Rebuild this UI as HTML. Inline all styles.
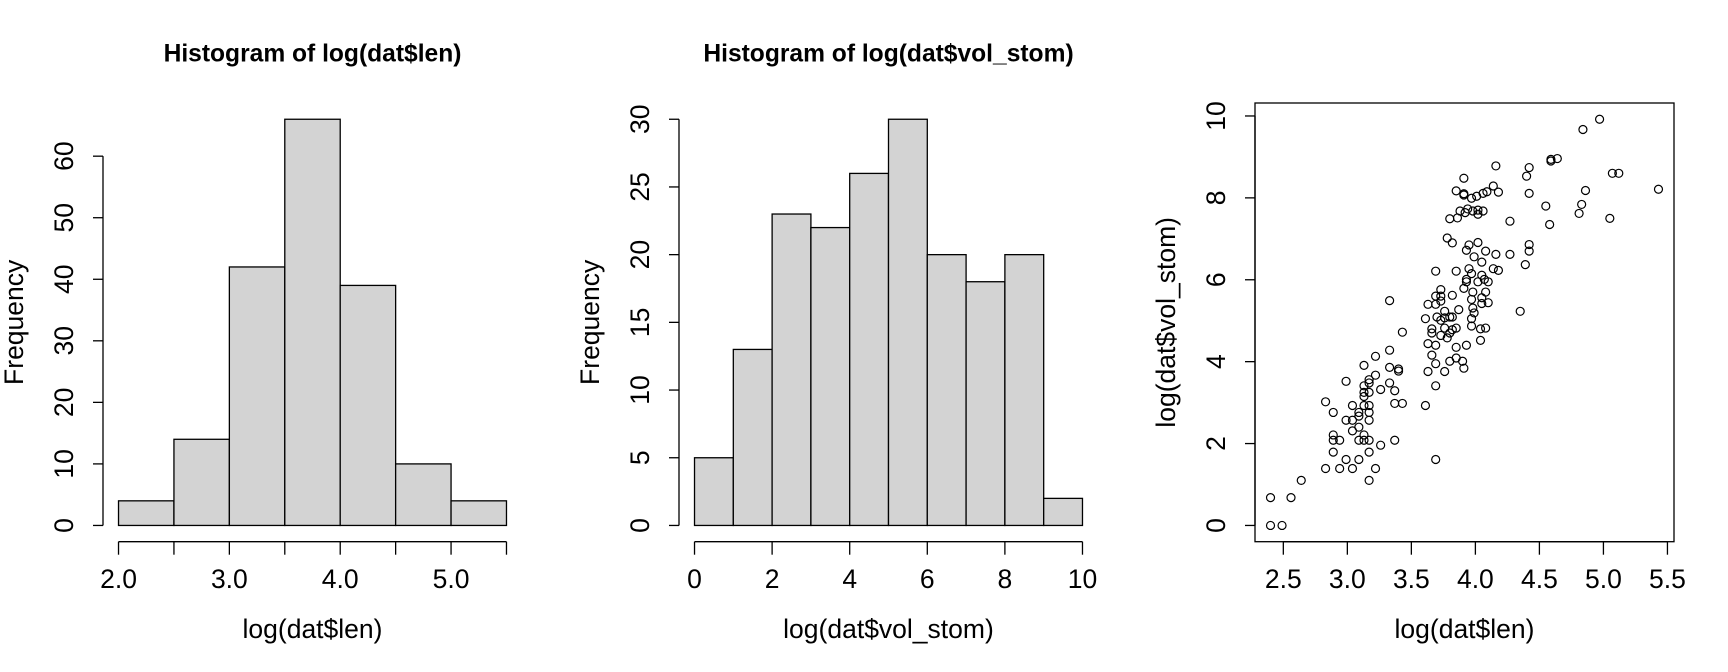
<!DOCTYPE html>
<html><head><meta charset="utf-8"><style>
html,body{margin:0;padding:0;background:#fff;}
svg{display:block;font-family:"Liberation Sans",Arial,sans-serif;}
</style></head><body>
<svg id="chart" width="1728" height="672" viewBox="0 0 1728 672" xmlns="http://www.w3.org/2000/svg"></svg>
<script>
// ---- data ----
const h1Breaks = [2.0, 2.5, 3.0, 3.5, 4.0, 4.5, 5.0, 5.5];
const h1Counts = [4, 14, 42, 66, 39, 10, 4];
const h1XTicks = [2.0, 2.5, 3.0, 3.5, 4.0, 4.5, 5.0, 5.5];
const h1XLabels = ["2.0", "", "3.0", "", "4.0", "", "5.0", ""];
const h1YTicks = [0, 10, 20, 30, 40, 50, 60];

const h2Breaks = [0, 1, 2, 3, 4, 5, 6, 7, 8, 9, 10];
const h2Counts = [5, 13, 23, 22, 26, 30, 20, 18, 20, 2];
const h2XTicks = [0, 2, 4, 6, 8, 10];
const h2YTicks = [0, 5, 10, 15, 20, 25, 30];

const scX = [2.40,2.49,2.40,2.56,2.64,2.83,2.94,3.04,3.22,3.17,2.99,3.09,2.89,3.17,3.26,3.37,2.89,2.94,3.09,3.13,3.17,2.89,3.13,3.04,3.09,2.99,3.04,3.17,3.09,3.09,2.89,3.17,2.83,3.04,3.13,3.17,3.37,3.43,3.61,3.13,3.13,3.17,3.26,3.37,3.13,3.17,3.17,3.33,2.99,3.22,3.13,3.33,3.40,3.40,3.22,3.33,3.43,3.33,
3.69,3.69,3.63,3.69,3.76,3.66,3.80,3.85,3.90,3.91,3.63,3.69,3.85,3.93,4.04,3.78,3.73,3.66,3.66,3.80,3.85,3.76,3.82,3.97,4.04,4.08,3.61,3.70,3.73,3.76,3.80,3.82,3.97,3.76,3.87,3.98,3.99,4.35,3.63,3.69,3.73,4.05,4.10,3.69,3.73,3.82,3.97,4.05,3.73,3.98,4.08,3.91,3.93,3.93,4.02,4.10,4.07,3.69,3.85,3.97,4.05,3.95,4.14,4.18,4.05,3.99,3.93,4.08,4.16,4.27,4.39,3.95,3.82,4.02,3.78,4.42,4.42,4.27,3.80,3.86,3.92,3.88,3.94,3.98,4.02,4.02,4.06,3.97,4.01,3.91,3.91,3.85,4.06,4.09,4.14,4.18,3.91,4.16,4.40,4.42,4.42,4.55,4.58,4.59,4.59,4.64,4.81,4.83,4.86,4.84,4.97,5.05,5.07,5.12,5.43];
const scY = [0,0,0.68,0.68,1.10,1.39,1.39,1.39,1.39,1.10,1.61,1.61,1.79,1.79,1.96,2.08,2.08,2.08,2.08,2.08,2.08,2.21,2.21,2.31,2.40,2.57,2.57,2.57,2.67,2.76,2.76,2.76,3.02,2.93,2.93,2.93,2.98,2.98,2.93,3.15,3.25,3.25,3.32,3.29,3.41,3.48,3.56,3.48,3.52,3.67,3.91,3.86,3.82,3.77,4.13,4.28,4.72,5.49,
1.61,3.41,3.76,3.95,3.76,4.16,4.01,4.09,4.01,3.84,4.44,4.40,4.35,4.40,4.52,4.58,4.64,4.70,4.80,4.70,4.82,4.82,4.78,4.87,4.80,4.82,5.05,5.09,5.01,5.07,5.09,5.09,5.05,5.23,5.27,5.31,5.19,5.23,5.40,5.40,5.48,5.42,5.44,5.60,5.60,5.62,5.52,5.56,5.76,5.70,5.70,5.79,5.95,6.01,5.95,5.95,6.01,6.21,6.21,6.15,6.11,6.27,6.27,6.23,6.43,6.56,6.72,6.70,6.62,6.62,6.37,6.85,6.90,6.91,7.02,6.86,6.70,7.43,7.49,7.51,7.64,7.68,7.73,7.68,7.60,7.70,7.68,7.99,8.04,8.07,8.10,8.17,8.11,8.15,8.29,8.14,8.48,8.78,8.53,8.74,8.11,7.80,7.35,8.94,8.90,8.96,7.62,7.84,8.18,9.67,9.92,7.50,8.60,8.60,8.21];
const scXTicks = [2.5, 3.0, 3.5, 4.0, 4.5, 5.0, 5.5];
const scXLabels = ["2.5","3.0","3.5","4.0","4.5","5.0","5.5"];
const scYTicks = [0, 2, 4, 6, 8, 10];

// ---- layout ----
const NS = "http://www.w3.org/2000/svg";
const svg = document.getElementById('chart');
const TOP = 103, BOT = 541.7, W = 419, FS = 26.5, LW = 1.3;
function mk(tag, attrs, parent, txt) {
  const e = document.createElementNS(NS, tag);
  for (const k in attrs) e.setAttribute(k, attrs[k]);
  if (txt !== undefined) e.textContent = txt;
  (parent || svg).appendChild(e);
  return e;
}
function linScale(d0, d1, r0, r1) { return v => r0 + (v - d0) / (d1 - d0) * (r1 - r0); }
function rangeExt(lo, hi, r0, r1) { const e = (hi - lo) * 0.04; return linScale(lo - e, hi + e, r0, r1); }

function yAxis(g, ticks, ys, xLine, labels) {
  const l = mk('line', {x1: xLine, x2: xLine, y1: ys(ticks[0]), y2: ys(ticks[ticks.length-1]), stroke: '#000', 'stroke-width': LW}, g);
  
  
  ticks.forEach((t, i) => {
    const tk = mk('line', {x1: xLine - 10, x2: xLine, y1: ys(t), y2: ys(t), stroke: '#000', 'stroke-width': LW}, g);
    
    
    const tx = mk('text', {x: 0, y: 0, 'font-size': FS, 'text-anchor': 'middle', transform: `translate(${xLine - 30},${ys(t)}) rotate(-90)`}, g, labels ? labels[i] : String(t));
    
    
  });
}
function xAxis(g, ticks, xs, yLine, labels) {
  const l = mk('line', {x1: xs(ticks[0]), x2: xs(ticks[ticks.length-1]), y1: yLine, y2: yLine, stroke: '#000', 'stroke-width': LW}, g);
  
  
  ticks.forEach((t, i) => {
    const tk = mk('line', {x1: xs(t), x2: xs(t), y1: yLine, y2: yLine + 13, stroke: '#000', 'stroke-width': LW}, g);
    
    
    if (labels[i]) {
      const tx = mk('text', {x: xs(t), y: 588, 'font-size': FS, 'text-anchor': 'middle'}, g, labels[i]);
      
      
    }
  });
}
function texts(g, left, title, xl, yl, ylx) {
  const cx = left + W / 2;
  if (title) {
    const t = mk('text', {x: cx, y: 61.7, 'font-size': 24.6, 'font-weight': 'bold', 'text-anchor': 'middle'}, g, title);
    
    
  }
  const a = mk('text', {x: cx, y: 638, 'font-size': FS, 'text-anchor': 'middle'}, g, xl);
  
  
  const b = mk('text', {x: 0, y: 0, 'font-size': FS, 'text-anchor': 'middle', transform: `translate(${ylx},${(TOP + BOT) / 2}) rotate(-90)`}, g, yl);
  
  
}
function histogram(name, left, breaks, counts, xTicks, xLabels, yTicks, title, xl) {
  const g = mk('g', {});
  
  
  const xs = rangeExt(breaks[0], breaks[breaks.length-1], left, left + W);
  const ys = rangeExt(0, Math.max(...counts), BOT, TOP);
  counts.forEach((c, i) => {
    const x0 = xs(breaks[i]), x1 = xs(breaks[i+1]);
    const r = mk('rect', {x: x0, y: ys(c), width: x1 - x0, height: ys(0) - ys(c), fill: '#d3d3d3', stroke: '#000', 'stroke-width': LW}, g);
    
    
  });
  yAxis(g, yTicks, ys, left);
  xAxis(g, xTicks, xs, BOT, xLabels);
  texts(g, left, title, xl, 'Frequency', left - 80);
}
histogram('histogram-len', 103, h1Breaks, h1Counts, h1XTicks, h1XLabels, h1YTicks, 'Histogram of log(dat$len)', 'log(dat$len)');
histogram('histogram-vol-stom', 679, h2Breaks, h2Counts, h2XTicks, h2XTicks.map(String), h2YTicks, 'Histogram of log(dat$vol_stom)', 'log(dat$vol_stom)');

// scatter
(function(){
  const left = 1255;
  const g = mk('g', {});
  
  
  const xs = rangeExt(Math.min(...scX), Math.max(...scX), left, left + W);
  const ys = rangeExt(Math.min(...scY), Math.max(...scY), BOT, TOP);
  const box = mk('rect', {x: left, y: TOP, width: W, height: BOT - TOP, fill: 'none', stroke: '#000', 'stroke-width': LW}, g);
  
  
  scX.forEach((v, i) => {
    const c = mk('circle', {cx: xs(v), cy: ys(scY[i]), r: 4, fill: 'none', stroke: '#000', 'stroke-width': 1.2}, g);
    
    
  });
  yAxis(g, scYTicks, ys, left);
  xAxis(g, scXTicks, xs, BOT, scXLabels);
  texts(g, left, null, 'log(dat$len)', 'log(dat$vol_stom)', left - 80);
})();
</script>
</body></html>
